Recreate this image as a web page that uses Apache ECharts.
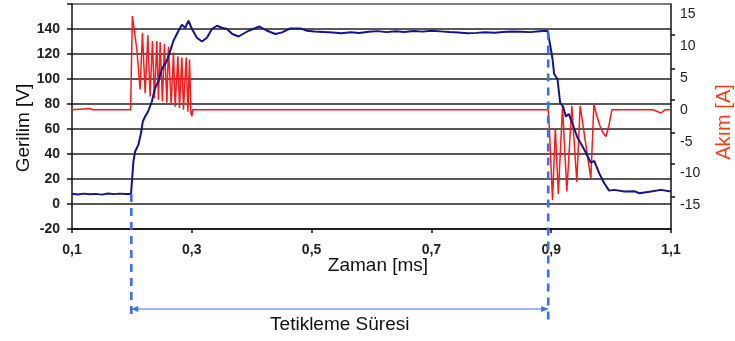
<!DOCTYPE html>
<html><head><meta charset="utf-8">
<script src="https://cdn.jsdelivr.net/npm/echarts@6/dist/echarts.min.js"></script>
<style>html,body{margin:0;padding:0;background:#fff}#c{width:735px;height:341px}</style>
</head><body><div id="c"></div>
<script>
// ---- data ----
const voltTime = [0.100,0.110,0.120,0.130,0.140,0.150,0.160,0.170,0.180,0.190,0.1985,
  0.2025,0.2054,0.2109,0.2149,0.2182,0.2221,0.2271,0.2333,0.2388,0.2443,0.2500,0.2584,0.2639,0.2694,
  0.2778,0.2834,0.2890,0.2945,0.3002,0.3085,0.3169,0.3253,0.3336,0.3420,0.3503,0.3587,0.3676,0.3781,
  0.3948,0.4132,0.4256,0.4395,0.4507,0.4645,0.4813,0.4925,0.505,0.520,0.535,0.550,0.565,0.580,0.595,
  0.610,0.625,0.640,0.655,0.670,0.685,0.700,0.715,0.730,0.745,0.760,0.775,0.790,0.805,0.820,0.835,
  0.850,0.865,0.880,0.8937,0.8980,0.9022,0.9049,0.9105,0.9149,0.9199,0.9244,0.9294,0.9328,0.9440,
  0.9524,0.9579,0.9662,0.9717,0.9801,0.9885,0.9968,1.0052,1.0222,1.0388,1.0472,1.0666,1.0833,1.100];
const voltValues = [8.2,7.6,8.3,7.8,8.1,7.5,8.4,7.9,8.3,8.0,8.0,
  34,42,47.5,56,66,70,74,82,93,98,108,114.5,122.5,130.6,
  138.6,143.4,141,146.7,140,133,130,133,140,142.6,141,140,136,134,
  138.6,142,138.6,136,137.3,140.5,140.5,138.6,138,137.6,137.2,136.6,137.4,136.8,137.8,
  138.3,137.5,138.2,137.6,138.4,137.9,138.6,138.1,137.6,137.2,136.6,136.9,137.4,137.0,137.6,138.0,
  137.8,137.5,138.2,138.6,128,116,104,100,81,78,70,72,67.6,53,
  46,41,33,34.5,24.7,16.6,10.7,11.3,10,10.2,8.6,10,11.3,10];

const currTime = [0.100,0.130,0.135,0.170,0.1978,0.1987,0.2008,0.2082,0.2137,0.2176,0.2221,0.2266,
  0.2304,0.2343,0.2376,0.2416,0.2443,0.2472,0.2510,0.2543,0.2584,0.2610,0.2656,0.2694,0.2722,0.2768,
  0.2794,0.2834,0.2861,0.2906,0.2935,0.2962,0.2985,0.3002,0.3015,0.600,0.8950,0.8970,0.9022,0.9069,
  0.9119,0.9189,0.9261,0.9344,0.9428,0.9483,0.9662,0.9712,0.9763,0.9813,0.9863,0.9913,0.9963,1.0013,
  1.070,1.0833,1.090,1.100];
const currValues = [0,0.2,0,0,0,4.5,14.7,9.5,3.2,12.1,2.6,11.7,
  2.1,10.8,1.8,10.8,1.6,10.6,1.3,10.3,1.1,9.9,0.8,9.0,0.5,8.4,
  0.3,8.2,0,8.2,-0.3,7.9,-0.5,-1.0,0,0,0,-3,-14.2,-2.9,
  -13.2,0.5,-12.8,0.6,-11.3,0.6,-10.8,0.8,-1.0,-2.5,-3.6,-4.2,-2.5,0,
  0,-0.5,0,0];

const currLabelValues = [-15,-10,-5,0,5,10,15];
const currTickValues = [11.7,6.4,1.6,-3.6,-8.4,-13.6];
const triggerStart = 0.199, triggerStartVolt = 8;
const triggerEnd = 0.895, triggerEndVolt = 138;

const FONT = '"Liberation Sans", Arial, sans-serif';
const chart = echarts.init(document.getElementById('c'), null, {renderer:'canvas'});

const zip = (a,b) => a.map((t,i)=>[t,b[i]]);

chart.setOption({
  animation:false,
  backgroundColor:'#fff',
  grid:{left:72, right:64, top:4, bottom:112},
  xAxis:{
    type:'value', min:0.1, max:1.1, interval:0.2,
    axisLine:{show:true, onZero:false, lineStyle:{color:'#111', width:1.5}},
    axisTick:{show:true, length:4, lineStyle:{color:'#111', width:1.5}},
    axisLabel:{fontFamily:FONT, fontSize:14, fontWeight:'bold', color:'#222', margin:14,
      formatter:v=>v.toFixed(1).replace('.',',')},
    splitLine:{show:false}
  },
  yAxis:[{
    type:'value', min:-20, max:160, interval:20, position:'left',
    axisLine:{show:true, lineStyle:{color:'#111', width:1.5}},
    axisTick:{show:true, length:5, lineStyle:{color:'#111', width:1.5}},
    axisLabel:{fontFamily:FONT, fontSize:14, fontWeight:'bold', color:'#222', margin:12,
      formatter:v=> v===160 ? '' : String(v)},
    splitLine:{show:true, lineStyle:{color:['#111','#222','#222','#222','#222','#222','#222','#222','#222','#555'], width:1.5}}
  },{
    type:'value', min:-18.7, max:16.6, position:'right',
    axisLine:{show:true, lineStyle:{color:'#111', width:1.5}},
    axisTick:{show:true, length:4, customValues:currTickValues, lineStyle:{color:'#111', width:1.5}},
    axisLabel:{fontFamily:FONT, fontSize:14, color:'#222', margin:9, customValues:currLabelValues},
    splitLine:{show:false}
  }],
  series:[{
    type:'line', yAxisIndex:1, showSymbol:false, data:zip(currTime,currValues),
    lineStyle:{color:'#ff1a1a', width:1.5}, itemStyle:{color:'#ff1a1a'}
  },{
    type:'line', yAxisIndex:0, showSymbol:false, data:zip(voltTime,voltValues),
    lineStyle:{color:'#14148c', width:2}, itemStyle:{color:'#14148c'}
  }]
});

const p1 = chart.convertToPixel({xAxisIndex:0, yAxisIndex:0}, [triggerStart, triggerStartVolt]);
const p2 = chart.convertToPixel({xAxisIndex:0, yAxisIndex:0}, [triggerEnd, triggerEndVolt]);
const dashStyle = {stroke:'#3b6ff0', lineWidth:2.6, lineDash:[8,6]};
const arrowY = 309, dashBottom = 320;
const ax1 = p1[0], ax2 = p2[0];
const blue = '#3b6ff0';

chart.setOption({graphic:[
  {type:'line', z:100, shape:{x1:p1[0], y1:p1[1], x2:p1[0], y2:dashBottom}, style:dashStyle},
  {type:'line', z:100, shape:{x1:p2[0], y1:p2[1], x2:p2[0], y2:dashBottom}, style:dashStyle},
  {type:'line', z:100, shape:{x1:ax1, y1:arrowY, x2:ax2, y2:arrowY}, style:{stroke:blue, lineWidth:1}},
  {type:'polygon', z:100, shape:{points:[[ax1,arrowY],[ax1+7,arrowY-3],[ax1+7,arrowY+3]]}, style:{fill:blue}},
  {type:'polygon', z:100, shape:{points:[[ax2,arrowY],[ax2-7,arrowY-3],[ax2-7,arrowY+3]]}, style:{fill:blue}},
  {type:'text', z:100, x:(ax1+ax2)/2, y:325, style:{text:'Tetikleme Süresi', font:'19px '+FONT, fill:'#111', align:'center', verticalAlign:'middle', textAlign:'center', textVerticalAlign:'middle'}},
  {type:'text', z:100, x:378, y:266, style:{text:'Zaman [ms]', font:'19px '+FONT, fill:'#111', align:'center', verticalAlign:'middle', textAlign:'center', textVerticalAlign:'middle'}},
  {type:'text', z:100, x:24, y:128, rotation:Math.PI/2, style:{text:'Gerilim [V]', font:'19px '+FONT, fill:'#111', align:'center', verticalAlign:'middle', textAlign:'center', textVerticalAlign:'middle'}},
  {type:'text', z:100, x:724, y:122, rotation:Math.PI/2, style:{text:'Akım [A]', font:'20px '+FONT, fill:'#ff3a1a', align:'center', verticalAlign:'middle', textAlign:'center', textVerticalAlign:'middle'}}
]});
</script></body></html>
